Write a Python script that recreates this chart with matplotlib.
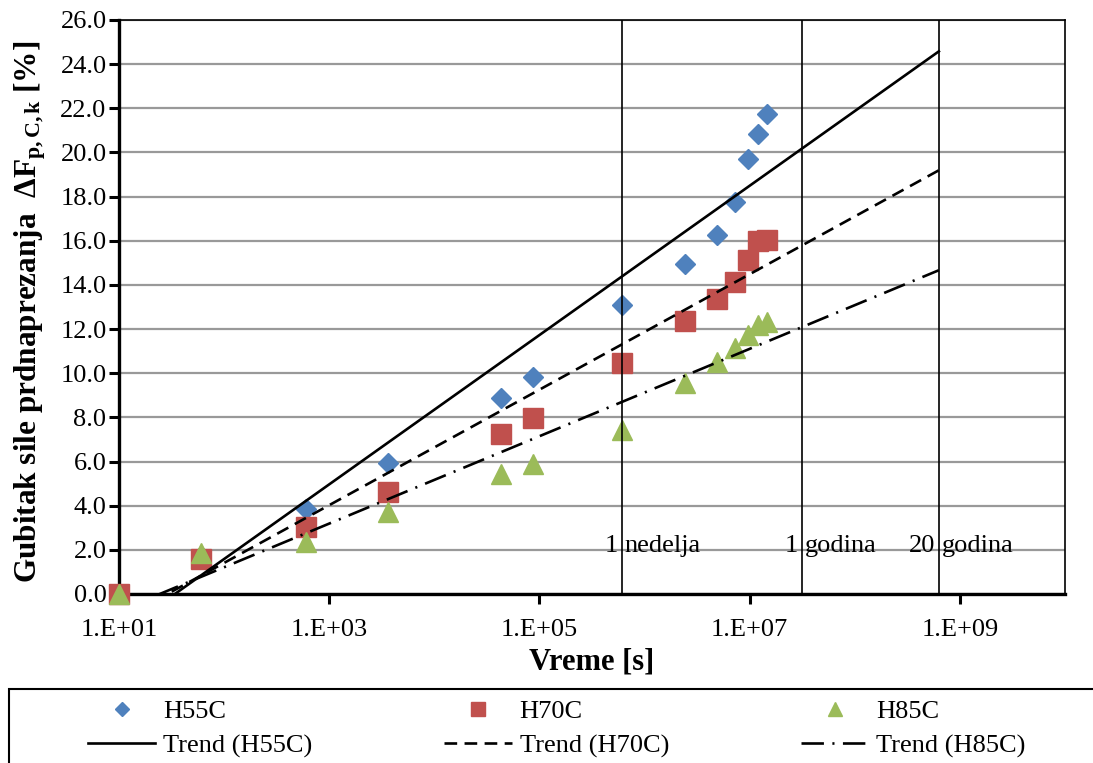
import numpy as np
import matplotlib
matplotlib.use("Agg")
import matplotlib.pyplot as plt
from matplotlib.patches import Rectangle

plt.rcParams['font.family'] = ['Liberation Serif', 'DejaVu Serif']
plt.rcParams['mathtext.fontset'] = 'custom'
plt.rcParams['mathtext.rm'] = 'Liberation Serif'
plt.rcParams['mathtext.bf'] = 'Liberation Serif:bold'
plt.rcParams['mathtext.it'] = 'Liberation Serif:italic'

# ---------------- data ----------------
time_s = [10, 60, 600, 3600, 43200, 86400, 604800, 2419200, 4838400,
          7257600, 9676800, 12096000, 14515200]
h55c = [0.0, 1.7, 3.85, 5.95, 8.9, 9.85, 13.1, 14.95, 16.25, 17.75, 19.7, 20.85, 21.75]
h70c = [0.0, 1.6, 3.05, 4.6, 7.25, 7.95, 10.45, 12.35, 13.35, 14.15, 15.15, 16.0, 16.05]
h85c = [0.0, 1.85, 2.35, 3.7, 5.45, 5.9, 7.45, 9.55, 10.5, 11.15, 11.75, 12.2, 12.3]
series_names = ['H55C', 'H70C', 'H85C']

marker_times = [604800, 31536000, 630720000]          # 1 week, 1 year, 20 years
marker_num = ['1', '1', '20']
marker_word = ['nedelja', 'godina', 'godina']

xtick_vals = [1e1, 1e3, 1e5, 1e7, 1e9]
xtick_labels = ['1.E+01', '1.E+03', '1.E+05', '1.E+07', '1.E+09']
ytick_vals = np.arange(0, 26.01, 2.0)

# ---------------- figure ----------------
W, H = 1093, 763
fig = plt.figure(figsize=(W / 100, H / 100), dpi=100)
L, R, T, B = 119, 1065, 20, 594
ax = fig.add_axes([L / W, 1 - B / H, (R - L) / W, (B - T) / H])

colors = ['#4F81BD', '#C0504D', '#9BBB59']
markers = ['D', 's', '^']
msizes = [10.5, 14.0, 14.5]
styles = ['-', (0, (4.8, 2.8)), (0, (8.5, 3.2, 0.8, 3.2))]
t = np.array(time_s, dtype=float)
ys = [h55c, h70c, h85c]

handles = []
t_end = marker_times[2]
for i, (name, y) in enumerate(zip(series_names, ys)):
    pts, = ax.plot(t, y, linestyle='none', marker=markers[i], ms=msizes[i],
                   mfc=colors[i], mec=colors[i], zorder=3, label=name,
                   clip_on=False)
    a, b = np.polyfit(np.log(t), np.array(y), 1)
    xx = np.geomspace(t[0], t_end, 300)
    ln, = ax.plot(xx, a * np.log(xx) + b, color='black', lw=1.9,
                  linestyle=styles[i], dash_capstyle='butt', zorder=4,
                  label=f'Trend ({name})')
    handles.append((pts, ln))

for xv, n, w in zip(marker_times, marker_num, marker_word):
    ax.axvline(xv, color='black', lw=1.2, zorder=4)
    ax.annotate(n, (xv, 2.0), xytext=(-4, -2), textcoords='offset pixels',
                ha='right', va='baseline', fontsize=19)
    ax.annotate(w, (xv, 2.0), xytext=(3, -2), textcoords='offset pixels',
                ha='left', va='baseline', fontsize=19)

ax.set_xscale('log')
ax.set_xlim(1e1, 1e10)
ax.set_ylim(0, 26)
ax.set_xticks(xtick_vals)
ax.set_xticklabels(xtick_labels)
ax.xaxis.set_minor_locator(matplotlib.ticker.NullLocator())
ax.set_yticks(ytick_vals)
ax.set_yticklabels([f'{v:.1f}' for v in ytick_vals])
ax.tick_params(axis='both', labelsize=19, direction='out', width=2.2)
ax.tick_params(axis='y', length=7, pad=2)
ax.tick_params(axis='x', length=7, pad=11)
ax.yaxis.grid(True, color='#999999', lw=1.6, zorder=0)
ax.set_axisbelow(True)
for s in ['left', 'bottom']:
    ax.spines[s].set_linewidth(2.4)
for s in ['top', 'right']:
    ax.spines[s].set_linewidth(1.2)

fig.text(30 / W, 1 - 312 / H,
         r'Gubitak sile prdnaprezanja  ΔF$_{\mathbf{p,C,k}}$ [%]',
         rotation=90, ha='center', va='center', fontsize=22.5, fontweight='bold')
fig.text(592 / W, 1 - 662 / H, 'Vreme [s]', ha='center', va='center',
         fontsize=22, fontweight='bold')

# legend box
fig.patches.append(Rectangle((9 / W, -0.05), 1.1, 0.05 + 1 - 689 / H,
                             transform=fig.transFigure, fill=False,
                             ec='black', lw=1.5))
order = []
for p, l in handles:
    order += [p, l]
leg = fig.legend(handles=order, labels=[h.get_label() for h in order],
                 ncol=3, loc='upper left', bbox_to_anchor=(88 / W, 1 - 700 / H),
                 frameon=False, fontsize=19, handlelength=2.55,
                 handletextpad=0.3, columnspacing=5.0, labelspacing=0.4,
                 borderpad=0, borderaxespad=0, markerscale=0.7)

fig.savefig('out.png', dpi=100)
